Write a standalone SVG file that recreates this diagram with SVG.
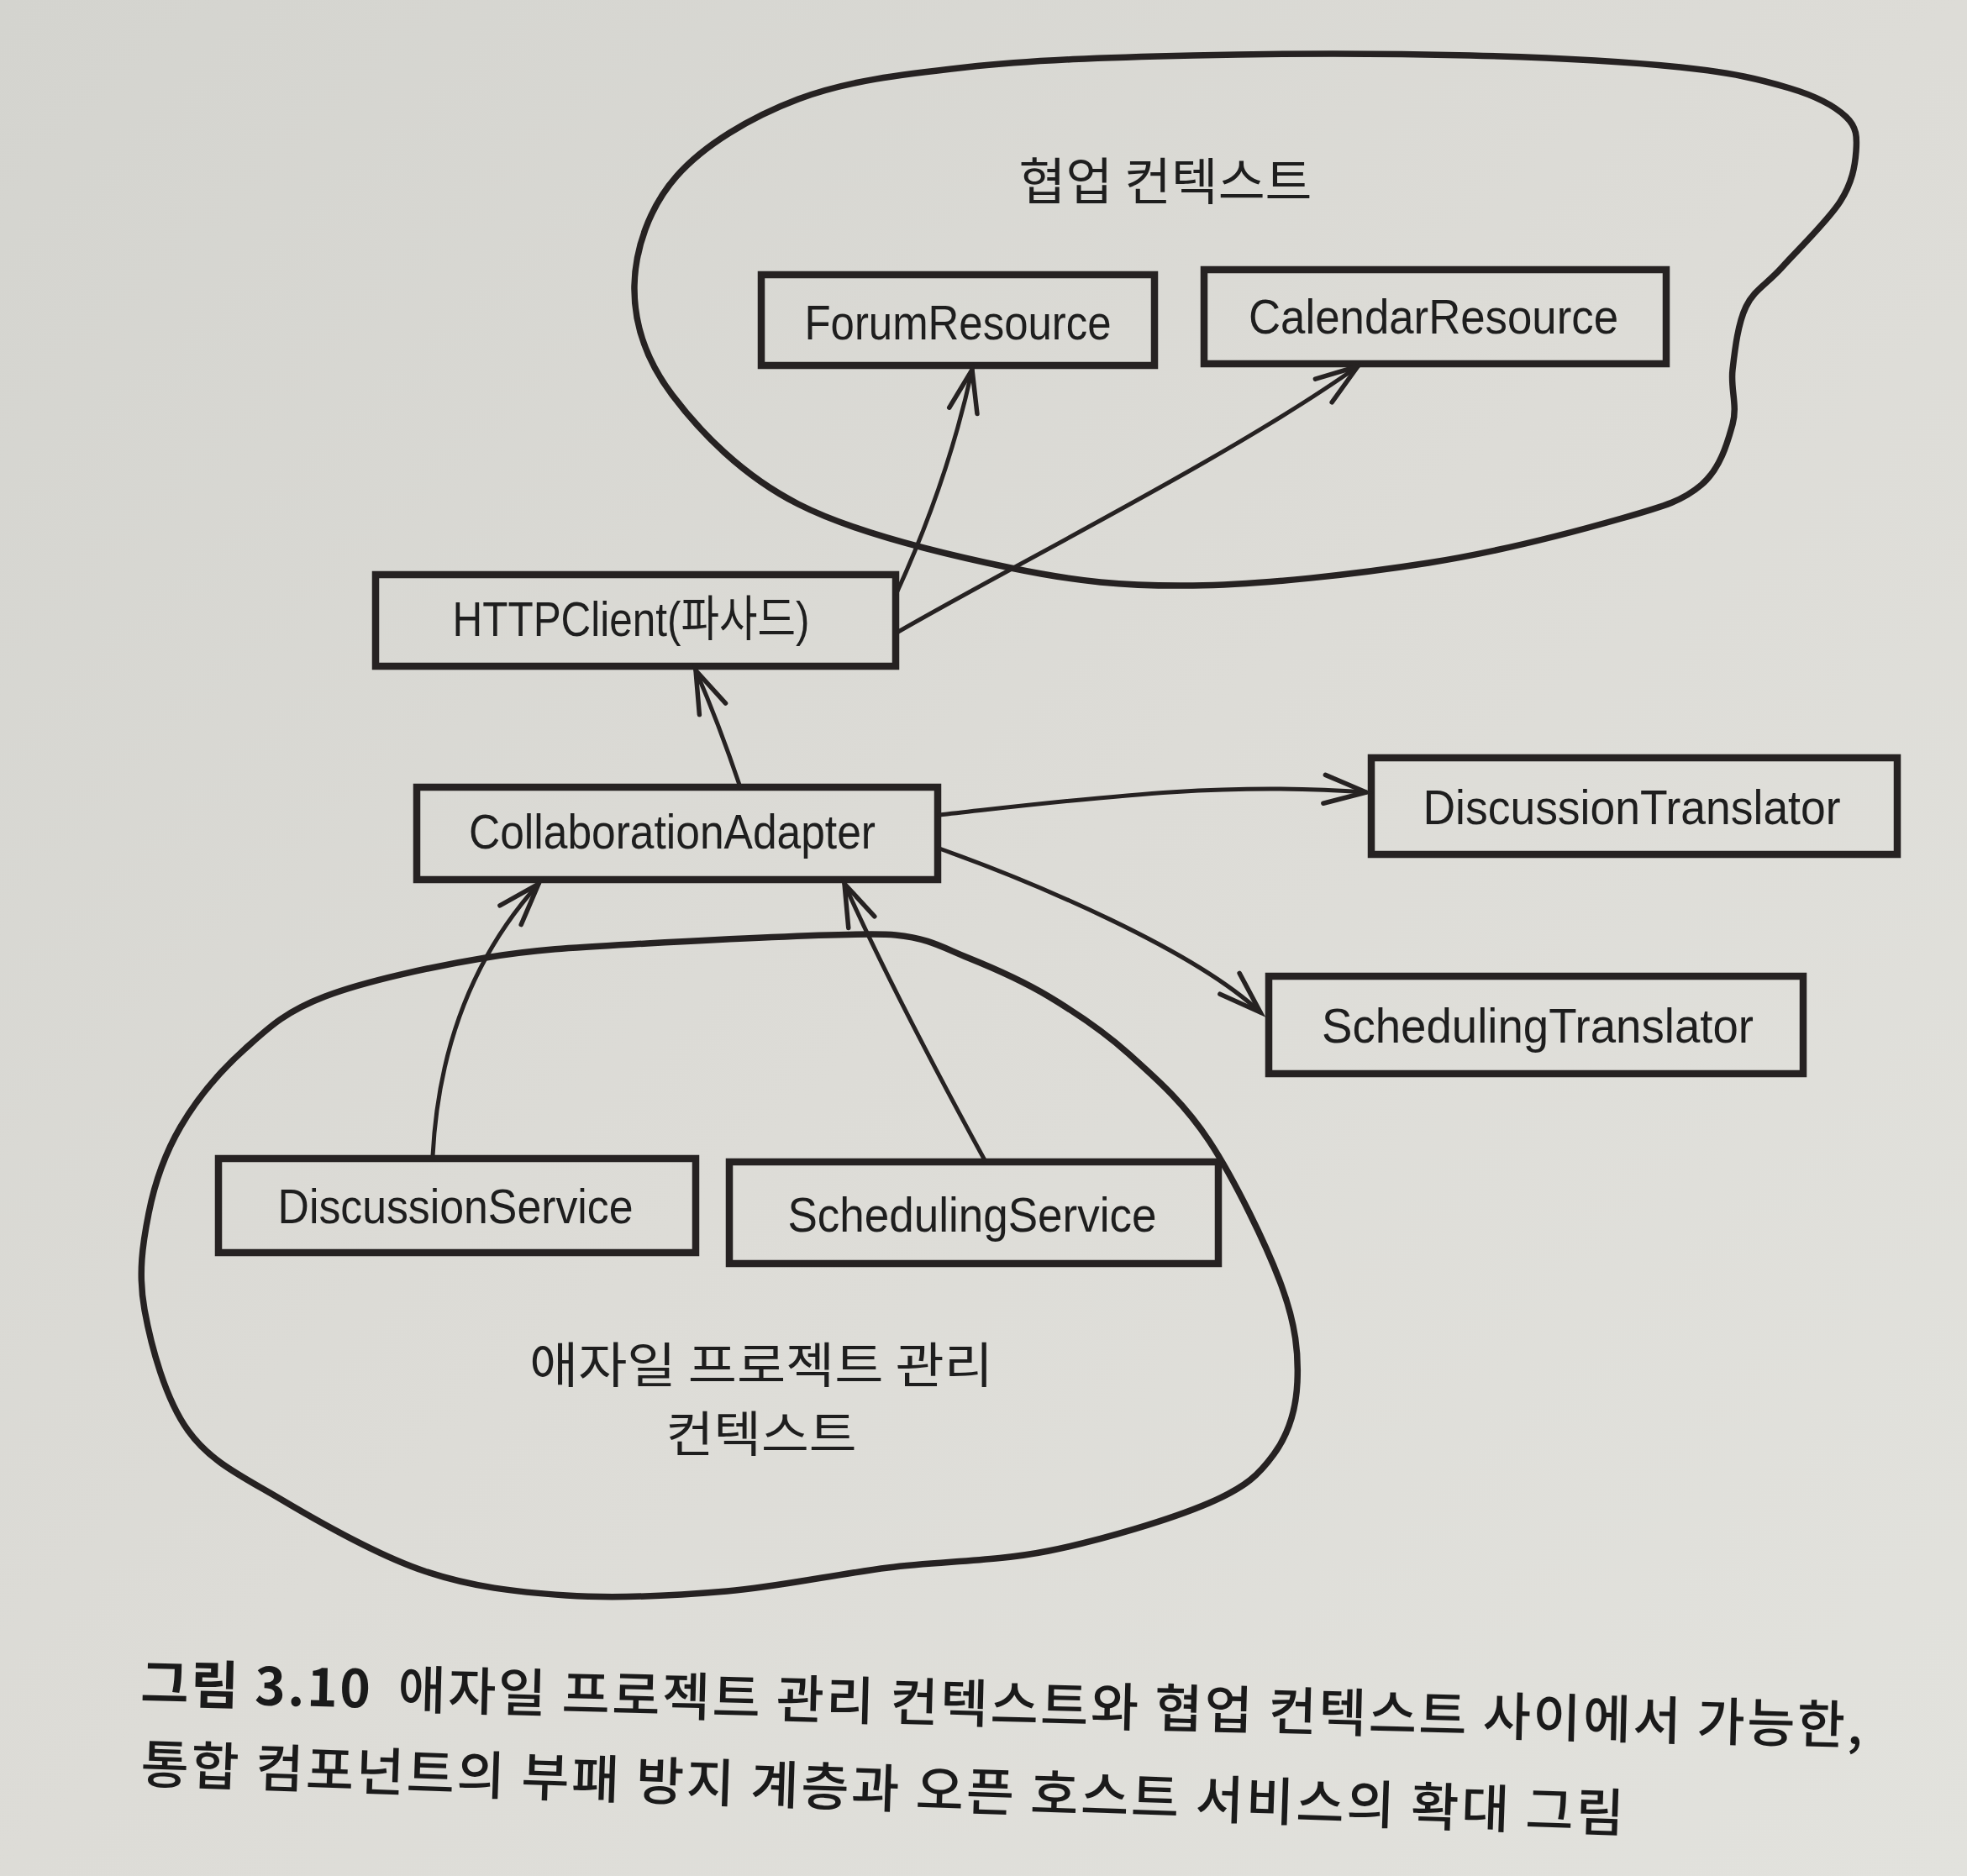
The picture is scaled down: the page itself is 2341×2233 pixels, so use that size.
<svg xmlns="http://www.w3.org/2000/svg" width="2341" height="2233" viewBox="0 0 2341 2233">
<defs>
<linearGradient id="paper" x1="0" y1="0" x2="1" y2="1">
<stop offset="0" stop-color="#d4d4cf"/>
<stop offset="0.5" stop-color="#dddcd7"/>
<stop offset="1" stop-color="#e2e2dd"/>
</linearGradient>
<marker id="arr" markerUnits="userSpaceOnUse" markerWidth="80" markerHeight="80" refX="0" refY="0" viewBox="-60 -40 80 80" orient="auto" overflow="visible">
<path d="M-50,-17 L0,0 L-50,17" fill="none" stroke="#262222" stroke-width="5.5" stroke-linecap="round" stroke-linejoin="miter"/>
</marker>
<style>
.blob{fill:none;stroke:#262222;stroke-width:7.5;stroke-linejoin:round}
.box{fill:none;stroke:#262222;stroke-width:8.5}
.lbl{font-family:"Liberation Sans","Noto Sans CJK KR",sans-serif;font-size:58px;fill:#1e1e1e;text-anchor:middle}
.ko{font-family:"Noto Sans CJK KR","Noto Sans",sans-serif;fill:#1e1e1e;text-anchor:middle}
.cap{font-family:"Noto Sans CJK KR","Noto Sans",sans-serif;font-size:62px;font-weight:500;fill:#1a1a1a}
.con{fill:none;stroke:#262222;stroke-width:5;stroke-linecap:round;marker-end:url(#arr)}
</style>
</defs>
<rect x="0" y="0" width="2341" height="2233" fill="url(#paper)"/>

<g id="collab-context">
<path class="blob" d="M755,340 C755.8,296.7 772.5,247 805,210 C837.5,173 892.5,139.7 950,118 C1007.5,96.3 1071.7,88.7 1150,80 C1228.3,71.3 1320,68.3 1420,66 C1520,63.7 1653.3,63.7 1750,66 C1846.7,68.3 1936.7,73.5 2000,80 C2063.3,86.5 2097.2,95.2 2130,105 C2162.8,114.8 2183.8,126.5 2197,139 C2210.2,151.5 2210.2,163.2 2209,180 C2207.8,196.8 2204.7,217 2190,240 C2175.3,263 2139.7,297.2 2121,318 C2102.3,338.8 2087.8,344.7 2078,365 C2068.2,385.3 2064.7,416.7 2062,440 C2059.3,463.3 2068.2,482.2 2062,505 C2055.8,527.8 2047,558.3 2025,577 C2003,595.7 1984.2,601.5 1930,617 C1875.8,632.5 1785,656.7 1700,670 C1615,683.3 1502.8,696 1420,697 C1337.2,698 1281.3,692.2 1203,676 C1124.7,659.8 1017.2,634.3 950,600 C882.8,565.7 832.5,513.3 800,470 C767.5,426.7 754.2,383.3 755,340 Z"/>
<text class="ko" x="1387" y="238" font-size="60" textLength="349" lengthAdjust="spacingAndGlyphs">협업 컨텍스트</text>
</g>

<g id="agile-context">
<path class="blob" d="M1066,1113 C1106,1117 1121.7,1127.8 1152,1140 C1182.3,1152.2 1216,1166.8 1248,1186 C1280,1205.2 1312.2,1226.3 1344,1255 C1375.8,1283.7 1408.8,1312.2 1439,1358 C1469.2,1403.8 1507.5,1482.2 1525,1530 C1542.5,1577.8 1545.5,1611.5 1544,1645 C1542.5,1678.5 1533.5,1707 1516,1731 C1498.5,1755 1483.7,1769.8 1439,1789 C1394.3,1808.2 1311.7,1833.2 1248,1846 C1184.3,1858.8 1120.8,1858 1057,1866 C993.2,1874 928.8,1888.5 865,1894 C801.2,1899.5 734,1903 674,1899 C614,1895 561.5,1889 505,1870 C448.5,1851 381.8,1812.8 335,1785 C288.2,1757.2 251.2,1740.7 224,1703 C196.8,1665.3 179.8,1602.2 172,1559 C164.2,1515.8 169.8,1480.3 177,1444 C184.2,1407.7 196,1373.5 215,1341 C234,1308.5 262.3,1274.8 291,1249 C319.7,1223.2 339.2,1204.2 387,1186 C434.8,1167.8 514.2,1150.5 578,1140 C641.8,1129.5 688.7,1127.5 770,1123 C851.3,1118.5 1026,1109 1066,1113 Z"/>
<text class="ko" x="906" y="1646" font-size="58" textLength="552" lengthAdjust="spacingAndGlyphs">애자일 프로젝트 관리</text>
<text class="ko" x="906" y="1728" font-size="58" textLength="227" lengthAdjust="spacingAndGlyphs">컨텍스트</text>
</g>

<g id="forum-resource">
<rect class="box" x="906" y="327" width="468" height="108"/>
<text class="lbl" x="1140" y="404" textLength="365" lengthAdjust="spacingAndGlyphs">ForumResource</text>
</g>

<g id="calendar-resource">
<rect class="box" x="1433" y="321" width="550" height="112"/>
<text class="lbl" x="1706" y="397" textLength="440" lengthAdjust="spacingAndGlyphs">CalendarResource</text>
</g>

<g id="http-client">
<rect class="box" x="447" y="684" width="619" height="109"/>
<text class="lbl" x="751" y="757" textLength="425" lengthAdjust="spacingAndGlyphs">HTTPClient(파사드)</text>
</g>

<g id="collaboration-adapter">
<rect class="box" x="496" y="937" width="620" height="110"/>
<text class="lbl" x="800" y="1010" textLength="484" lengthAdjust="spacingAndGlyphs">CollaborationAdapter</text>
</g>

<g id="discussion-translator">
<rect class="box" x="1632" y="902" width="626" height="115"/>
<text class="lbl" x="1942" y="981" textLength="497" lengthAdjust="spacingAndGlyphs">DiscussionTranslator</text>
</g>

<g id="scheduling-translator">
<rect class="box" x="1510" y="1162" width="636" height="116"/>
<text class="lbl" x="1830" y="1241" textLength="514" lengthAdjust="spacingAndGlyphs">SchedulingTranslator</text>
</g>

<g id="discussion-service">
<rect class="box" x="260" y="1379" width="568" height="112"/>
<text class="lbl" x="542" y="1456" textLength="423" lengthAdjust="spacingAndGlyphs">DiscussionService</text>
</g>

<g id="scheduling-service">
<rect class="box" x="868" y="1383" width="582" height="121"/>
<text class="lbl" x="1157" y="1466" textLength="439" lengthAdjust="spacingAndGlyphs">SchedulingService</text>
</g>

<g id="connectors">
<path class="con" d="M881,937 Q855,860 828,798"/>
<path class="con" d="M1067,706 Q1128,573 1157,440"/>
<path class="con" d="M1069,752 C1220,665 1470,540 1616,436"/>
<path class="con" d="M1118,970 C1300,950 1450,930 1626,943"/>
<path class="con" d="M1118,1010 C1230,1050 1420,1130 1500,1205"/>
<path class="con" d="M515,1376 Q525,1181 641,1052"/>
<path class="con" d="M1172,1381 Q1061,1178 1005,1052"/>
</g>

<g id="caption">
<text class="cap" x="167" y="2026" transform="rotate(1.4 167 2026)" textLength="2050"><tspan font-weight="bold">그림 3.10</tspan><tspan dx="30">애자일 프로젝트 관리 컨텍스트와 협업 컨텍스트 사이에서 가능한,</tspan></text>
<text class="cap" x="167" y="2122" transform="rotate(1.9 167 2122)" textLength="1766">통합 컴포넌트의 부패 방지 계층과 오픈 호스트 서비스의 확대 그림</text>
</g>
</svg>
